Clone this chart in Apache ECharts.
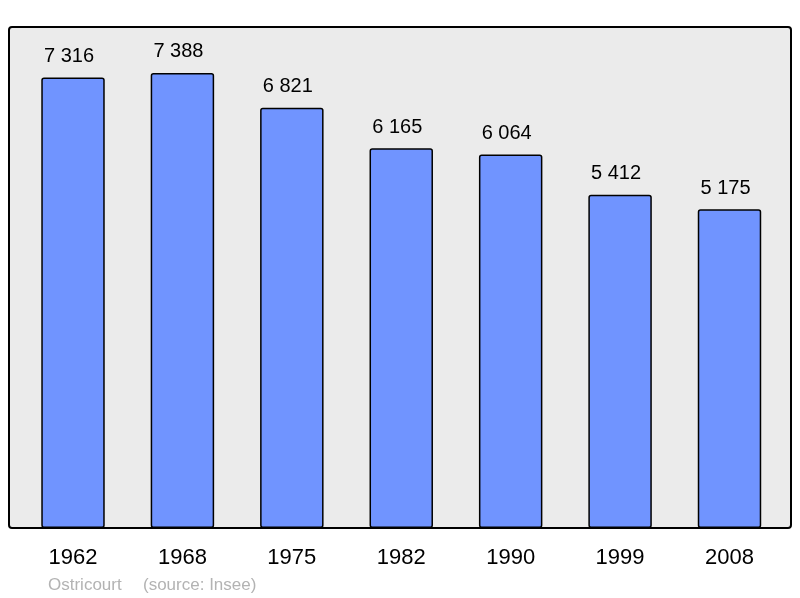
<!DOCTYPE html>
<html>
<head>
<meta charset="utf-8">
<script src="https://cdn.jsdelivr.net/npm/echarts@6/dist/echarts.min.js"></script>
<style>html,body{margin:0;padding:0;background:#fff}#c{width:800px;height:598px}</style>
</head>
<body>
<div id="c"></div>
<script>
const categories = ['1962', '1968', '1975', '1982', '1990', '1999', '2008'];
const population = [7316, 7388, 6821, 6165, 6064, 5412, 5175];
const townName = 'Ostricourt';
const sourceText = '(source: Insee)';

const FONT = '"Liberation Sans", Arial, sans-serif';
const chart = echarts.init(document.getElementById('c'), null, {renderer: 'canvas'});
chart.setOption({
  animation: false,
  backgroundColor: '#ffffff',
  grid: {left: 18.3, right: 15.8, top: 27, bottom: 70},
  graphic: [
    {type: 'rect', z: -10, shape: {x: 9, y: 27, width: 782, height: 501, r: 3},
     style: {fill: '#ebebeb', stroke: '#000', lineWidth: 2}},
    {type: 'text', left: 48, top: 577, style: {text: townName, fill: '#b3b3b3', font: '17px ' + FONT}},
    {type: 'text', left: 143, top: 577, style: {text: sourceText, fill: '#b3b3b3', font: '17px ' + FONT}}
  ],
  xAxis: {
    type: 'category', data: categories,
    axisLine: {show: false}, axisTick: {show: false},
    axisLabel: {color: '#000', fontSize: 22, fontFamily: FONT, margin: 19}
  },
  yAxis: {type: 'value', min: 0, max: 8134, show: false, splitLine: {show: false}},
  series: [{
    type: 'bar', data: population, barCategoryGap: '42%',
    itemStyle: {color: '#7094ff', borderColor: '#000', borderWidth: 1.5, borderRadius: 2},
    label: {
      show: true, position: 'top', distance: 11, offset: [-4, 0], color: '#000', fontSize: 20, fontFamily: FONT,
      formatter: p => String(p.value).replace(/\B(?=(\d{3})+(?!\d))/g, ' ')
    }
  }]
});
</script>
</body>
</html>
